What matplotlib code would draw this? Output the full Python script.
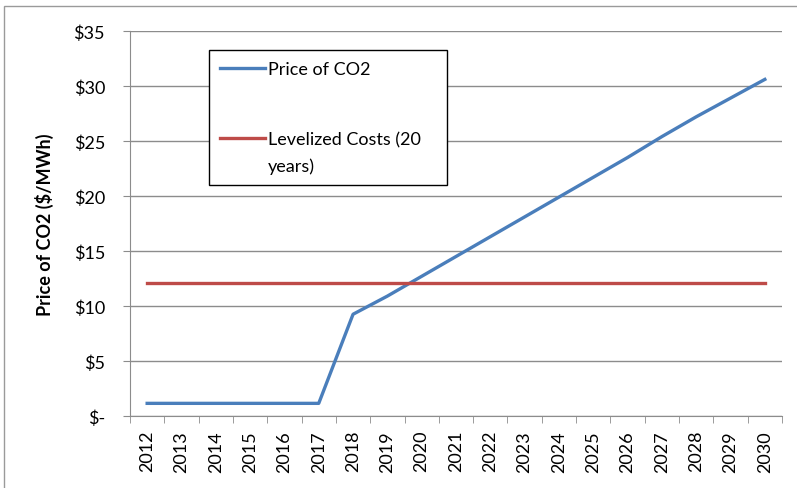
import numpy as np
import matplotlib.pyplot as plt
from matplotlib.patches import Rectangle

years = [str(y) for y in range(2012, 2031)]
price_co2 = [1.15, 1.15, 1.15, 1.15, 1.15, 1.15, 9.25, 10.9, 12.7, 14.5, 16.3,
             18.1, 19.9, 21.7, 23.5, 25.4, 27.2, 28.9, 30.6]
levelized = [12.1] * len(years)
y_ticks = [0, 5, 10, 15, 20, 25, 30, 35]
y_tick_labels = ['$-', '$5', '$10', '$15', '$20', '$25', '$30', '$35']

plt.rcParams['font.family'] = ['Lato', 'DejaVu Sans']

fig = plt.figure(figsize=(7.97, 4.89), dpi=100)
ax = fig.add_axes([130 / 797, 1 - 417 / 489, 652 / 797, 385 / 489])

# outer chart border (only top and left edges are visible in the picture)
fig.patches.append(Rectangle((4 / 797, -0.1), 1.2, 1.1 - 7 / 489,
                             transform=fig.transFigure, fill=False,
                             edgecolor='#9a9a9a', linewidth=1))

x = np.arange(len(years))
ax.plot(x, price_co2, color='#4A7EBB', linewidth=2.4, label='Price of CO2',
        solid_joinstyle='round')
ax.plot(x, levelized, color='#BE4B48', linewidth=2.4,
        label='Levelized Costs (20\nyears)')

ax.set_xlim(-0.5, len(years) - 0.5)
ax.set_ylim(0, 35)
ax.set_yticks(y_ticks)
ax.set_yticklabels(y_tick_labels, fontsize=13)
ax.yaxis.grid(True, color='#8c8c8c', linewidth=1)
ax.set_axisbelow(True)
ax.tick_params(axis='y', length=5, color='#8c8c8c', pad=13)

ax.set_xticks(x)
ax.set_xticklabels(years, rotation=90, fontsize=13)
ax.set_xticks(np.arange(-0.5, len(years)), minor=True)
ax.tick_params(axis='x', which='major', length=0, pad=10)
ax.tick_params(axis='x', which='minor', length=5, color='#8c8c8c')

for side in ['top', 'right']:
    ax.spines[side].set_visible(False)
for side in ['left', 'bottom']:
    ax.spines[side].set_color('#8c8c8c')

ax.set_ylabel('Price of CO2 ($/MWh)', fontsize=13, fontweight='bold',
              labelpad=14)

leg = ax.legend(loc='upper left',
                bbox_to_anchor=(209 / 797, 1 - 184 / 489, 238 / 797, 133 / 489),
                bbox_transform=fig.transFigure, mode='expand', borderaxespad=0,
                fancybox=False, edgecolor='black', fontsize=13,
                handlelength=2.5, handletextpad=0.15, labelspacing=3.0,
                borderpad=0.6, framealpha=1)
leg.get_frame().set_linewidth(1)
leg.get_texts()[1].set_linespacing(1.75)

# keep the red key level with the first line of its two-line label
red_key = leg.legend_handles[1]
red_key.set_ydata(np.asarray(red_key.get_ydata()) + 10.5)

fig.savefig('out.png', dpi=100)
